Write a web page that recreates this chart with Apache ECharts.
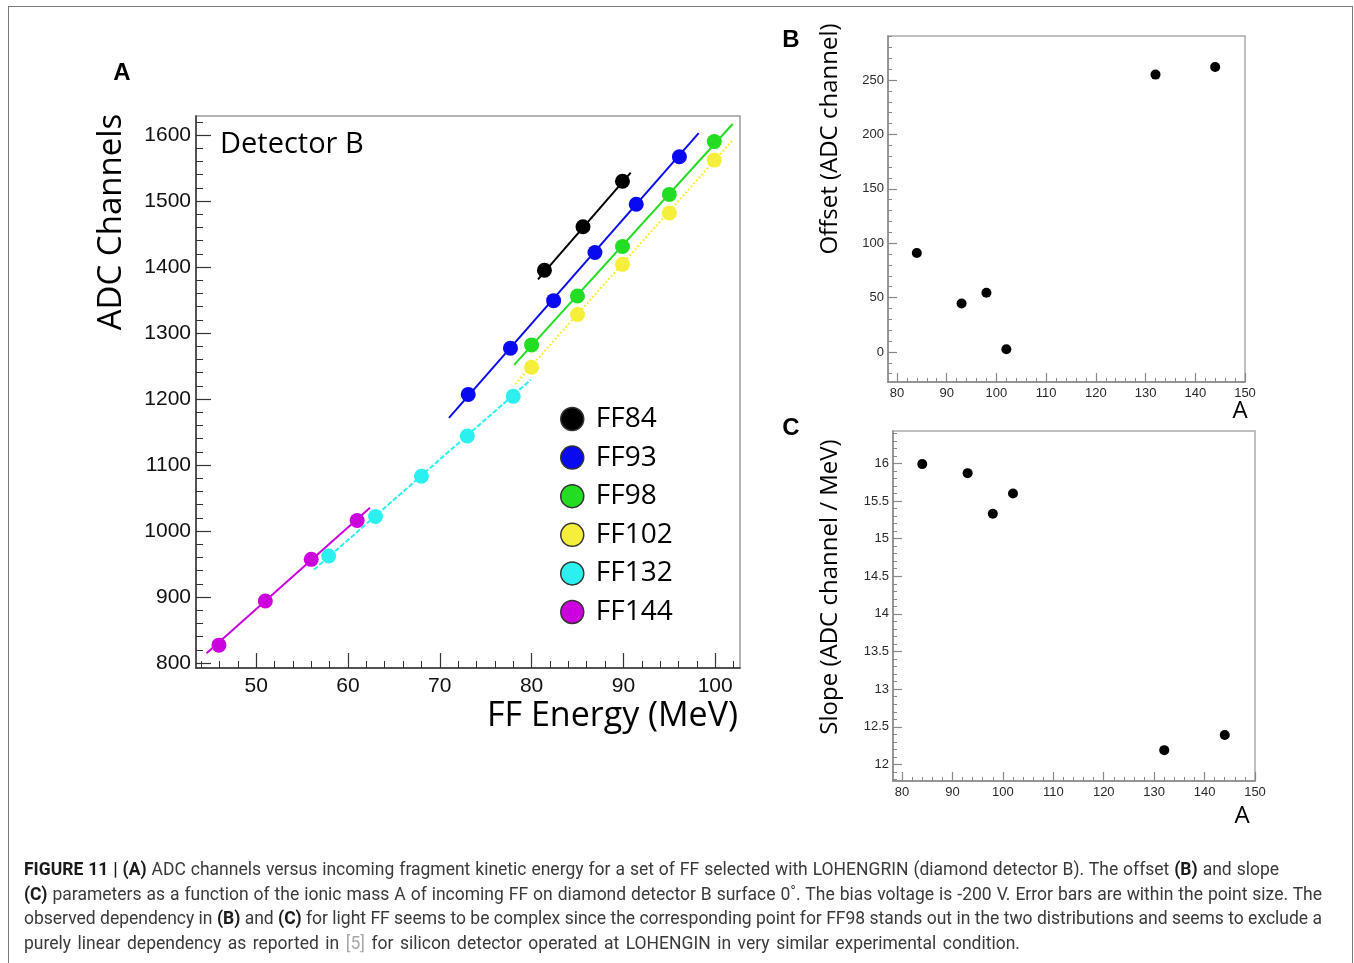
<!DOCTYPE html>
<html>
<head>
<meta charset="utf-8">
<title>Figure 11</title>
<script src="https://cdn.jsdelivr.net/npm/echarts@6/dist/echarts.min.js"></script>
<style>
html, body { margin: 0; padding: 0; background: #fff; }
#wrap { position: relative; width: 1354px; height: 963px; overflow: hidden; }
#chart { position: absolute; left: 0; top: 0; width: 1354px; height: 963px; }
#frame { position: absolute; left: 8px; top: 6px; width: 1345px; height: 1000px; border: 1.5px solid #7a7a7a; box-sizing: border-box; }
#caption { position: absolute; left: 24px; top: 857px; font-family: Roboto, "Liberation Sans", sans-serif; font-size: 17.5px; letter-spacing: 0; line-height: 24.7px; color: #3a3a3a; }
#caption div { white-space: nowrap; }
#caption .j { text-align: justify; text-align-last: justify; }
#caption b { color: #1a1a1a; }
#caption .ref { color: #a8a8a8; }
</style>
</head>
<body>
<div id="wrap">
  <div id="frame"></div>
  <div id="chart"></div>
  <div id="caption">
    <div class="j" style="width:1255px"><b>FIGURE 11 | (A)</b> ADC channels versus incoming fragment kinetic energy for a set of FF selected with LOHENGRIN (diamond detector B). The offset <b>(B)</b> and slope</div>
    <div class="j" style="width:1298px"><b>(C)</b> parameters as a function of the ionic mass A of incoming FF on diamond detector B surface 0˚. The bias voltage is -200 V. Error bars are within the point size. The</div>
    <div class="j" style="width:1298px">observed dependency in <b>(B)</b> and <b>(C)</b> for light FF seems to be complex since the corresponding point for FF98 stands out in the two distributions and seems to exclude a</div>
    <div class="j" style="width:996px">purely linear dependency as reported in <span class="ref">[5]</span> for silicon detector operated at LOHENGIN in very similar experimental condition.</div>
  </div>
</div>
<script>
// fragments and fit results (panels B and C)
const ffNames = ['FF84', 'FF93', 'FF98', 'FF102', 'FF132', 'FF144'];
const ffColors = ['#000000', '#0a0af0', '#22dd22', '#f5ee3a', '#2cf0f0', '#cc00dd'];
const massA = [84, 93, 98, 102, 132, 144];
const offsetB = [91, 44.5, 54.5, 2.5, 255, 262];
const slopeC = [15.99, 15.87, 15.33, 15.6, 12.19, 12.39];

// panel A: measured points per fragment
const energyFF84 = [81.4, 85.6, 89.9];
const adcFF84 = [1395, 1461, 1530];
const energyFF93 = [73.1, 77.7, 82.4, 86.9, 91.4, 96.1];
const adcFF93 = [1207, 1277, 1349, 1422, 1495, 1567];
const energyFF98 = [80, 85, 89.9, 95, 99.9];
const adcFF98 = [1282, 1356, 1431, 1510, 1590];
const energyFF102 = [80, 85, 89.9, 95, 99.9];
const adcFF102 = [1248, 1328, 1404, 1482, 1562];
const energyFF132 = [57.9, 63, 68, 73, 78];
const adcFF132 = [962, 1022, 1083, 1144, 1204];
const energyFF144 = [45.95, 51, 56, 61];
const adcFF144 = [827, 894, 957, 1016];

// energy range covered by each fit line
const fitFrom = [80.7, 71.0, 78.1, 78.2, 56.3, 44.6];
const fitTo = [90.8, 98.2, 101.9, 101.9, 79.9, 62.4];
const fitStyle = ['solid', 'solid', 'solid', 'dotted', [5, 2], 'solid'];

// tick values
const energyTicks = [50, 60, 70, 80, 90, 100];
const adcTicks = [800, 900, 1000, 1100, 1200, 1300, 1400, 1500, 1600];
const massTicks = [80, 90, 100, 110, 120, 130, 140, 150];
const offsetTicks = [0, 50, 100, 150, 200, 250];
const slopeTicks = [12, 12.5, 13, 13.5, 14, 14.5, 15, 15.5, 16];

function steps(a, b, step, skip) {
  let out = [];
  for (let v = a; v <= b + 1e-9; v += step) {
    let r = Math.round(v * 100) / 100;
    if (skip.indexOf(r) < 0) out.push(r);
  }
  return out;
}

const energyPoints = [energyFF84, energyFF93, energyFF98, energyFF102, energyFF132, energyFF144];
const adcPoints = [adcFF84, adcFF93, adcFF98, adcFF102, adcFF132, adcFF144];

const LBL = '"Liberation Sans", Arial, sans-serif';
const TTL = '"Open Sans", sans-serif';

function mainAxis(dim, grid, min, max, ticks, len, fontSize, margin, color) {
  return {
    type: 'value', gridIndex: grid, min: min, max: max,
    position: dim === 'x' ? 'bottom' : 'left',
    axisLine: { show: true, onZero: false, lineStyle: { color: color, width: 1.5 } },
    axisTick: { show: true, inside: true, length: len, customValues: ticks, lineStyle: { color: color, width: 1.2 } },
    axisLabel: {
      show: true, customValues: ticks, margin: margin,
      fontFamily: LBL, fontSize: fontSize, color: fontSize > 15 ? '#111' : '#2a2a2a',
      formatter: function (v) { return String(v); }
    },
    splitLine: { show: false }
  };
}
function minorAxis(dim, grid, min, max, ticks, len, color) {
  return {
    type: 'value', gridIndex: grid, min: min, max: max,
    position: dim === 'x' ? 'bottom' : 'left',
    axisLine: { show: false, onZero: false },
    axisTick: { show: true, inside: true, length: len, customValues: ticks, lineStyle: { color: color, width: 1 } },
    axisLabel: { show: false },
    splitLine: { show: false }
  };
}

const xMinA = 43.45, xMaxA = 102.7, yMinA = 792.4, yMaxA = 1628.8;
const xMinBC = 78.2, xMaxBC = 150;
const yMinB = -27.6, yMaxB = 290.5;
const yMinC = 11.78, yMaxC = 16.43;

let series = [];
for (let i = 0; i < ffNames.length; i++) {
  let pts = [];
  for (let j = 0; j < energyPoints[i].length; j++) pts.push([energyPoints[i][j], adcPoints[i][j]]);
  series.push({
    name: ffNames[i], type: 'scatter', xAxisIndex: 0, yAxisIndex: 0,
    symbol: 'circle', symbolSize: 15, data: pts, z: 3,
    itemStyle: { color: ffColors[i], opacity: 1 }
  });
  series.push({
    name: 'fit ' + ffNames[i], type: 'line', xAxisIndex: 0, yAxisIndex: 0,
    symbol: 'none', z: 2,
    data: [[fitFrom[i], offsetB[i] + slopeC[i] * fitFrom[i]], [fitTo[i], offsetB[i] + slopeC[i] * fitTo[i]]],
    lineStyle: { color: ffColors[i], width: 2, type: fitStyle[i], opacity: 1 }
  });
}
let offPts = [], slopePts = [];
for (let i = 0; i < massA.length; i++) {
  offPts.push([massA[i], offsetB[i]]);
  slopePts.push([massA[i], slopeC[i]]);
}
series.push({ name: 'offset', type: 'scatter', xAxisIndex: 2, yAxisIndex: 2, symbolSize: 10, data: offPts, itemStyle: { color: '#000', opacity: 1 } });
series.push({ name: 'slope', type: 'scatter', xAxisIndex: 4, yAxisIndex: 4, symbolSize: 10, data: slopePts, itemStyle: { color: '#000', opacity: 1 } });

function txt(x, y, text, font, opts) {
  let o = { type: 'text', x: x, y: y, z: 10,
    style: { text: text, font: font, fill: '#000', align: 'center', verticalAlign: 'middle' } };
  if (opts && opts.rotate) o.rotation = Math.PI / 2;
  if (opts && opts.align) o.style.align = opts.align;
  return o;
}

const option = {
  animation: false,
  backgroundColor: 'transparent',
  grid: [
    { left: 196, top: 116, width: 544, height: 552, show: true, borderColor: '#9a9a9a', borderWidth: 1.5 },
    { left: 888, top: 36, width: 357, height: 346, show: true, borderColor: '#aaaaaa', borderWidth: 1.5 },
    { left: 893, top: 431, width: 362, height: 350, show: true, borderColor: '#aaaaaa', borderWidth: 1.5 }
  ],
  xAxis: [
    mainAxis('x', 0, xMinA, xMaxA, energyTicks, 15, 21, 8, '#333'),
    minorAxis('x', 0, xMinA, xMaxA, steps(44, 102, 2, energyTicks), 7, '#333'),
    mainAxis('x', 1, xMinBC, xMaxBC, massTicks, 9, 13, 5, '#888'),
    minorAxis('x', 1, xMinBC, xMaxBC, steps(80, 148, 2, massTicks), 4, '#888'),
    mainAxis('x', 2, xMinBC, xMaxBC, massTicks, 9, 13, 5, '#888'),
    minorAxis('x', 2, xMinBC, xMaxBC, steps(80, 148, 2, massTicks), 4, '#888')
  ],
  yAxis: [
    mainAxis('y', 0, yMinA, yMaxA, adcTicks, 15, 21, 5, '#333'),
    minorAxis('y', 0, yMinA, yMaxA, steps(800, 1620, 20, adcTicks), 7, '#333'),
    mainAxis('y', 1, yMinB, yMaxB, offsetTicks, 9, 13, 4, '#888'),
    minorAxis('y', 1, yMinB, yMaxB, steps(-20, 290, 10, offsetTicks), 4, '#888'),
    mainAxis('y', 2, yMinC, yMaxC, slopeTicks, 9, 13, 4, '#888'),
    minorAxis('y', 2, yMinC, yMaxC, steps(11.8, 16.4, 0.1, slopeTicks), 4, '#888')
  ],
  legend: {
    data: ffNames,
    orient: 'vertical',
    left: 555, top: 400,
    itemWidth: 23, itemHeight: 23, itemGap: 10.6,
    icon: 'circle',
    itemStyle: { borderColor: '#333', borderWidth: 1.5, opacity: 1 },
    textStyle: { fontFamily: TTL, fontSize: 28, lineHeight: 28, color: '#000', padding: [0, 0, 0, 7] }
  },
  graphic: [
    txt(122, 73, 'A', 'bold 24px ' + LBL),
    txt(791, 40, 'B', 'bold 24px ' + LBL),
    txt(791, 428, 'C', 'bold 24px ' + LBL),
    txt(112, 222, 'ADC Channels', '33px ' + TTL, { rotate: true }),
    txt(738, 716, 'FF Energy (MeV)', '34px ' + TTL, { align: 'right' }),
    txt(220, 145, 'Detector B', '29px ' + TTL, { align: 'left' }),
    txt(830, 139, 'Offset (ADC channel)', '24px ' + TTL, { rotate: true }),
    txt(830, 587, 'Slope (ADC channel / MeV)', '24px ' + TTL, { rotate: true }),
    txt(1240, 411, 'A', '24px ' + TTL),
    txt(1242, 816, 'A', '24px ' + TTL)
  ],
  series: series
};

const chart = echarts.init(document.getElementById('chart'), null, { renderer: 'canvas' });
chart.setOption(option);
</script>
</body>
</html>
